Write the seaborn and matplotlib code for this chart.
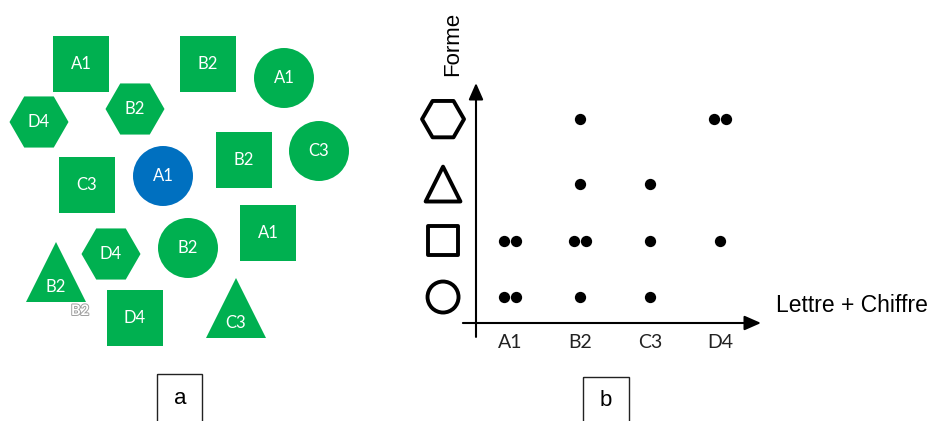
import pandas as pd
import matplotlib
matplotlib.use('Agg')
import matplotlib.pyplot as plt
from matplotlib.patches import Rectangle
import matplotlib.patheffects as pe
import seaborn as sns

# panneau a : les objets (étiquette, forme, couleur, position dans le dessin)
etiquettes = ['A1', 'B2', 'A1', 'D4', 'B2', 'B2', 'C3', 'C3', 'A1', 'A1', 'B2', 'D4', 'B2', 'D4', 'C3']
formes = ['carre', 'carre', 'cercle', 'hexagone', 'hexagone', 'carre', 'cercle', 'carre',
          'cercle', 'carre', 'cercle', 'hexagone', 'triangle', 'carre', 'triangle']
couleurs = ['vert'] * 8 + ['bleu'] + ['vert'] * 6
pos_x = [81, 208, 284, 39, 135, 244, 319, 87, 163, 268, 188, 111, 56, 135, 236]
pos_y = [64, 64, 78, 122, 109, 160, 151, 185, 176, 233, 248, 254, 272, 318, 308]

# panneau b : axes
categories = ['A1', 'B2', 'C3', 'D4']
ordre_formes = ['cercle', 'carre', 'triangle', 'hexagone']
titre_x = 'Lettre + Chiffre'
titre_y = 'Forme'

MARQUEURS = {'cercle': 'o', 'carre': 's', 'triangle': '^', 'hexagone': 'H'}
TAILLES = {'cercle': 1866, 'carre': 1680, 'triangle': 1866, 'hexagone': 1806}
ICONES = {'cercle': 498, 'carre': 441, 'triangle': 630, 'hexagone': 914}
RANGS = {'cercle': 0, 'carre': 1, 'triangle': 2, 'hexagone': 3.15}
PALETTE = {'vert': '#00B050', 'bleu': '#0070C0'}

sns.set_theme(style='white')
plt.rcParams['font.family'] = ['Liberation Sans', 'DejaVu Sans']

df = pd.DataFrame(dict(label=etiquettes, forme=formes, couleur=couleurs, x=pos_x, y=pos_y))

fig = plt.figure(figsize=(9.30, 4.21), dpi=100)

# toile en pixels pour le panneau a et les cadres
ax = fig.add_axes([0, 0, 1, 1])
ax.set_xlim(0, 930)
ax.set_ylim(421, 0)
ax.set_axis_off()

for forme, grp in df.groupby('forme'):
    sns.scatterplot(data=grp, x='x', y='y', hue='couleur', palette=PALETTE,
                    marker=MARQUEURS[forme], s=TAILLES[forme], linewidth=0,
                    legend=False, ax=ax)
for _, r in df.iterrows():
    dy = 15 if r.forme == 'triangle' else 0
    ax.text(r.x, r.y + dy, r.label, color='white', fontsize=12, family='Lato',
            ha='center', va='center')
ax.text(80, 311, 'B2', color='white', fontsize=10.5, family='Lato', fontweight='bold',
        ha='center', va='center',
        path_effects=[pe.withStroke(linewidth=1.4, foreground='#a0a0a0')])

# cadres a / b
ax.add_patch(Rectangle((157, 374), 45, 60, fill=False, ec='#222222', lw=1.0, clip_on=False))
ax.add_patch(Rectangle((583, 377), 46, 60, fill=False, ec='#222222', lw=1.0, clip_on=False))
ax.text(180, 398, 'a', fontsize=16, ha='center', va='center', color='black')
ax.text(606, 401, 'b', fontsize=16, ha='center', va='center', color='black')

# panneau b
ax_b = fig.add_axes([476 / 930, 98 / 421, 285 / 930, 240 / 421])
ax_b.set_facecolor('none')
for s in ax_b.spines.values():
    s.set_visible(False)

comptes = df.groupby(['forme', 'label']).size().reset_index(name='n')
lignes = []
for _, r in comptes.iterrows():
    for k in range(r.n):
        lignes.append(dict(x=categories.index(r.label) + (k - (r.n - 1) / 2) * 0.16,
                           y=RANGS[r.forme]))
points = pd.DataFrame(lignes)
sns.scatterplot(data=points, x='x', y='y', color='black', s=66, linewidth=0,
                legend=False, ax=ax_b)

for forme in ordre_formes:
    ax_b.scatter([-0.957], [RANGS[forme]], marker=MARQUEURS[forme], s=ICONES[forme],
                 facecolors='none', edgecolors='black', linewidths=2.8, clip_on=False)

ax_b.set_xlim(-0.486, 3.586)
ax_b.set_ylim(-0.46, 3.79)
ax_b.set_xticks(range(len(categories)), categories)
ax_b.set_yticks([])
ax_b.set_xlabel('')
ax_b.set_ylabel('')
ax_b.tick_params(axis='x', length=0, pad=8, labelsize=14, labelcolor='#222222')
for t in ax_b.get_xticklabels():
    t.set_family('Lato')

fleche = dict(arrowstyle='-|>,head_length=0.5,head_width=0.22', mutation_scale=20,
              lw=1.5, color='black', shrinkA=0, shrinkB=0)
ax_b.annotate('', xy=(1, 0), xytext=(-0.046, 0), xycoords='axes fraction',
              arrowprops=fleche, annotation_clip=False)
ax_b.annotate('', xy=(0, 1), xytext=(0, -0.058), xycoords='axes fraction',
              arrowprops=fleche, annotation_clip=False)

fig.text(453 / 930, 1 - 44 / 421, titre_y, rotation=90, fontsize=16,
         ha='center', va='center', color='black')
fig.text(776 / 930, 1 - 305 / 421, titre_x, fontsize=16.5,
         ha='left', va='center', color='black')

fig.savefig('out.png', dpi=100)
